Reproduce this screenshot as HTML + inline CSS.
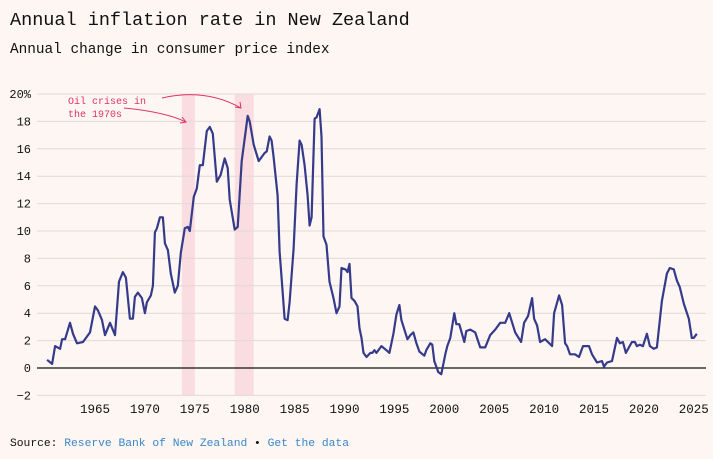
<!DOCTYPE html>
<html><head><meta charset="utf-8"><style>
body{margin:0;background:#fdf6f3;width:713px;height:454px;overflow:hidden;font-family:"Liberation Mono",monospace;}
svg text{font-family:"Liberation Mono",monospace;}
</style></head><body>
<svg id="c" width="713" height="454">
<rect width="713" height="454" fill="#fdf6f3"/>
<text x="10" y="25" font-size="18.5" fill="#111">Annual inflation rate in New Zealand</text>
<text x="10" y="53" font-size="14.4" fill="#111">Annual change in consumer price index</text>
<g id="bands"></g><g id="grid"></g><g id="xt"></g>
<path id="line" fill="none" stroke="#353b8a" stroke-width="2.2" stroke-linejoin="round"/>
<text x="68" y="104" font-size="10" fill="#e0316b"><tspan x="68">Oil crises in</tspan><tspan x="68" dy="13">the 1970s</tspan></text>
<g fill="none" stroke="#e0316b" stroke-width="1">
<path d="M124,108 Q165,112 186,122"/><path d="M182,117 L186,122 L180,123"/>
<path d="M162,98 Q205,88 241,108"/><path d="M235,107 L241,108 L240,102"/>
</g>
<text x="10" y="446" font-size="11.3" fill="#111">Source: <tspan fill="#3a86c8">Reserve Bank of New Zealand</tspan> • <tspan fill="#3a86c8">Get the data</tspan></text>
</svg>
<script>
const years=[1960.2,1960.7,1961.0,1961.5,1961.7,1962.0,1962.5,1962.8,1963.2,1963.8,1964.5,1965.0,1965.3,1965.7,1966.0,1966.5,1967.0,1967.4,1967.8,1968.1,1968.5,1968.8,1969.0,1969.3,1969.7,1970.0,1970.2,1970.6,1970.8,1971.0,1971.2,1971.5,1971.8,1972.0,1972.3,1972.6,1973.0,1973.3,1973.6,1974.0,1974.3,1974.5,1974.9,1975.2,1975.5,1975.8,1976.2,1976.5,1976.8,1977.2,1977.6,1978.0,1978.3,1978.5,1979.0,1979.3,1979.7,1980.3,1980.5,1980.9,1981.4,1982.0,1982.2,1982.5,1982.7,1982.9,1983.3,1983.5,1983.8,1984.0,1984.3,1984.5,1984.9,1985.2,1985.5,1985.7,1986.0,1986.3,1986.5,1986.7,1987.0,1987.2,1987.5,1987.7,1987.9,1988.2,1988.5,1988.9,1989.2,1989.5,1989.7,1990.1,1990.3,1990.5,1990.7,1991.0,1991.3,1991.5,1991.7,1991.9,1992.2,1992.6,1992.8,1993.0,1993.2,1993.7,1994.2,1994.5,1994.9,1995.2,1995.5,1995.7,1996.3,1996.6,1996.9,1997.2,1997.5,1998.0,1998.2,1998.6,1998.8,1999.0,1999.4,1999.7,2000.1,2000.3,2000.6,2001.0,2001.2,2001.5,2002.0,2002.2,2002.6,2003.1,2003.6,2004.1,2004.6,2005.1,2005.6,2006.1,2006.5,2007.1,2007.7,2008.0,2008.4,2008.8,2009.0,2009.3,2009.6,2010.1,2010.8,2011.0,2011.5,2011.8,2012.1,2012.3,2012.6,2013.1,2013.5,2013.9,2014.5,2014.8,2015.3,2015.8,2016.0,2016.3,2016.8,2017.3,2017.6,2017.9,2018.2,2018.8,2019.1,2019.3,2019.6,2019.9,2020.3,2020.6,2021.0,2021.3,2021.8,2022.3,2022.6,2023.0,2023.3,2023.6,2024.0,2024.5,2024.8,2025.0,2025.3];
const values=[0.6,0.3,1.6,1.4,2.1,2.1,3.3,2.5,1.8,1.9,2.6,4.5,4.2,3.5,2.4,3.3,2.4,6.3,7.0,6.6,3.6,3.6,5.2,5.5,5.1,4.0,4.8,5.3,6.0,9.9,10.2,11.0,11.0,9.1,8.6,6.9,5.5,6.0,8.4,10.2,10.3,10.0,12.5,13.1,14.8,14.8,17.3,17.6,17.1,13.6,14.1,15.3,14.6,12.3,10.1,10.3,15.1,18.4,18.0,16.3,15.1,15.7,15.8,16.9,16.6,15.4,12.6,8.5,5.6,3.6,3.5,4.8,8.7,13.4,16.6,16.3,14.8,12.6,10.4,11.0,18.2,18.3,18.9,16.9,9.6,9.0,6.3,5.1,4.0,4.5,7.3,7.2,7.0,7.6,5.1,4.9,4.5,2.9,2.2,1.1,0.8,1.1,1.1,1.3,1.1,1.6,1.3,1.1,2.5,3.9,4.6,3.5,2.1,2.4,2.6,1.8,1.2,0.9,1.3,1.8,1.7,0.5,-0.3,-0.45,1.0,1.6,2.2,4.0,3.2,3.2,1.9,2.7,2.8,2.6,1.5,1.5,2.4,2.8,3.3,3.3,4.0,2.6,1.9,3.3,3.8,5.1,3.6,3.1,1.9,2.1,1.6,4.0,5.3,4.6,1.8,1.6,1.0,1.0,0.8,1.6,1.6,1.0,0.4,0.5,0.1,0.4,0.5,2.2,1.8,1.9,1.1,1.9,1.9,1.6,1.7,1.6,2.5,1.6,1.4,1.5,4.9,6.9,7.3,7.2,6.4,5.9,4.7,3.6,2.2,2.2,2.5];
const yTicks=[-2,0,2,4,6,8,10,12,14,16,18,20];
const xTicks=[1965,1970,1975,1980,1985,1990,1995,2000,2005,2010,2015,2020,2025];
const bandsData=[[1973.7,1975.0],[1979.0,1980.9]];
const X=y=>95+(y-1965)*9.98, Y=v=>368-v*13.7;
const NS='http://www.w3.org/2000/svg';
function mk(t,a,p){const e=document.createElementNS(NS,t);for(const k in a)e.setAttribute(k,a[k]);p.appendChild(e);return e;}
const bg=document.getElementById('bands');
bandsData.forEach(b=>{const r=mk('rect',{x:X(b[0]),y:Y(20),width:X(b[1])-X(b[0]),height:Y(-2)-Y(20),fill:'#f9dde0'},bg);

});
const g=document.getElementById('grid');
yTicks.forEach(v=>{const l=mk('line',{x1:37,x2:706,y1:Y(v),y2:Y(v),stroke:v===0?'#111':'#e2d9d6','stroke-width':v===0?1.2:1},g);


const t=mk('text',{x:31,y:Y(v)+4,'font-size':12,'text-anchor':'end',fill:'#111'},g);
t.textContent=(v<0?'\u2212'+(-v):v)+(v===20?'%':'');

});
const xg=document.getElementById('xt');
xTicks.forEach(y=>{const t=mk('text',{x:X(y),y:413,'font-size':12.5,'text-anchor':'middle',fill:'#111'},xg);
t.textContent=y;

});
document.getElementById('line').setAttribute('d',years.map((y,i)=>(i?'L':'M')+X(y).toFixed(1)+','+Y(values[i]).toFixed(1)).join(''));
</script>
</body></html>
